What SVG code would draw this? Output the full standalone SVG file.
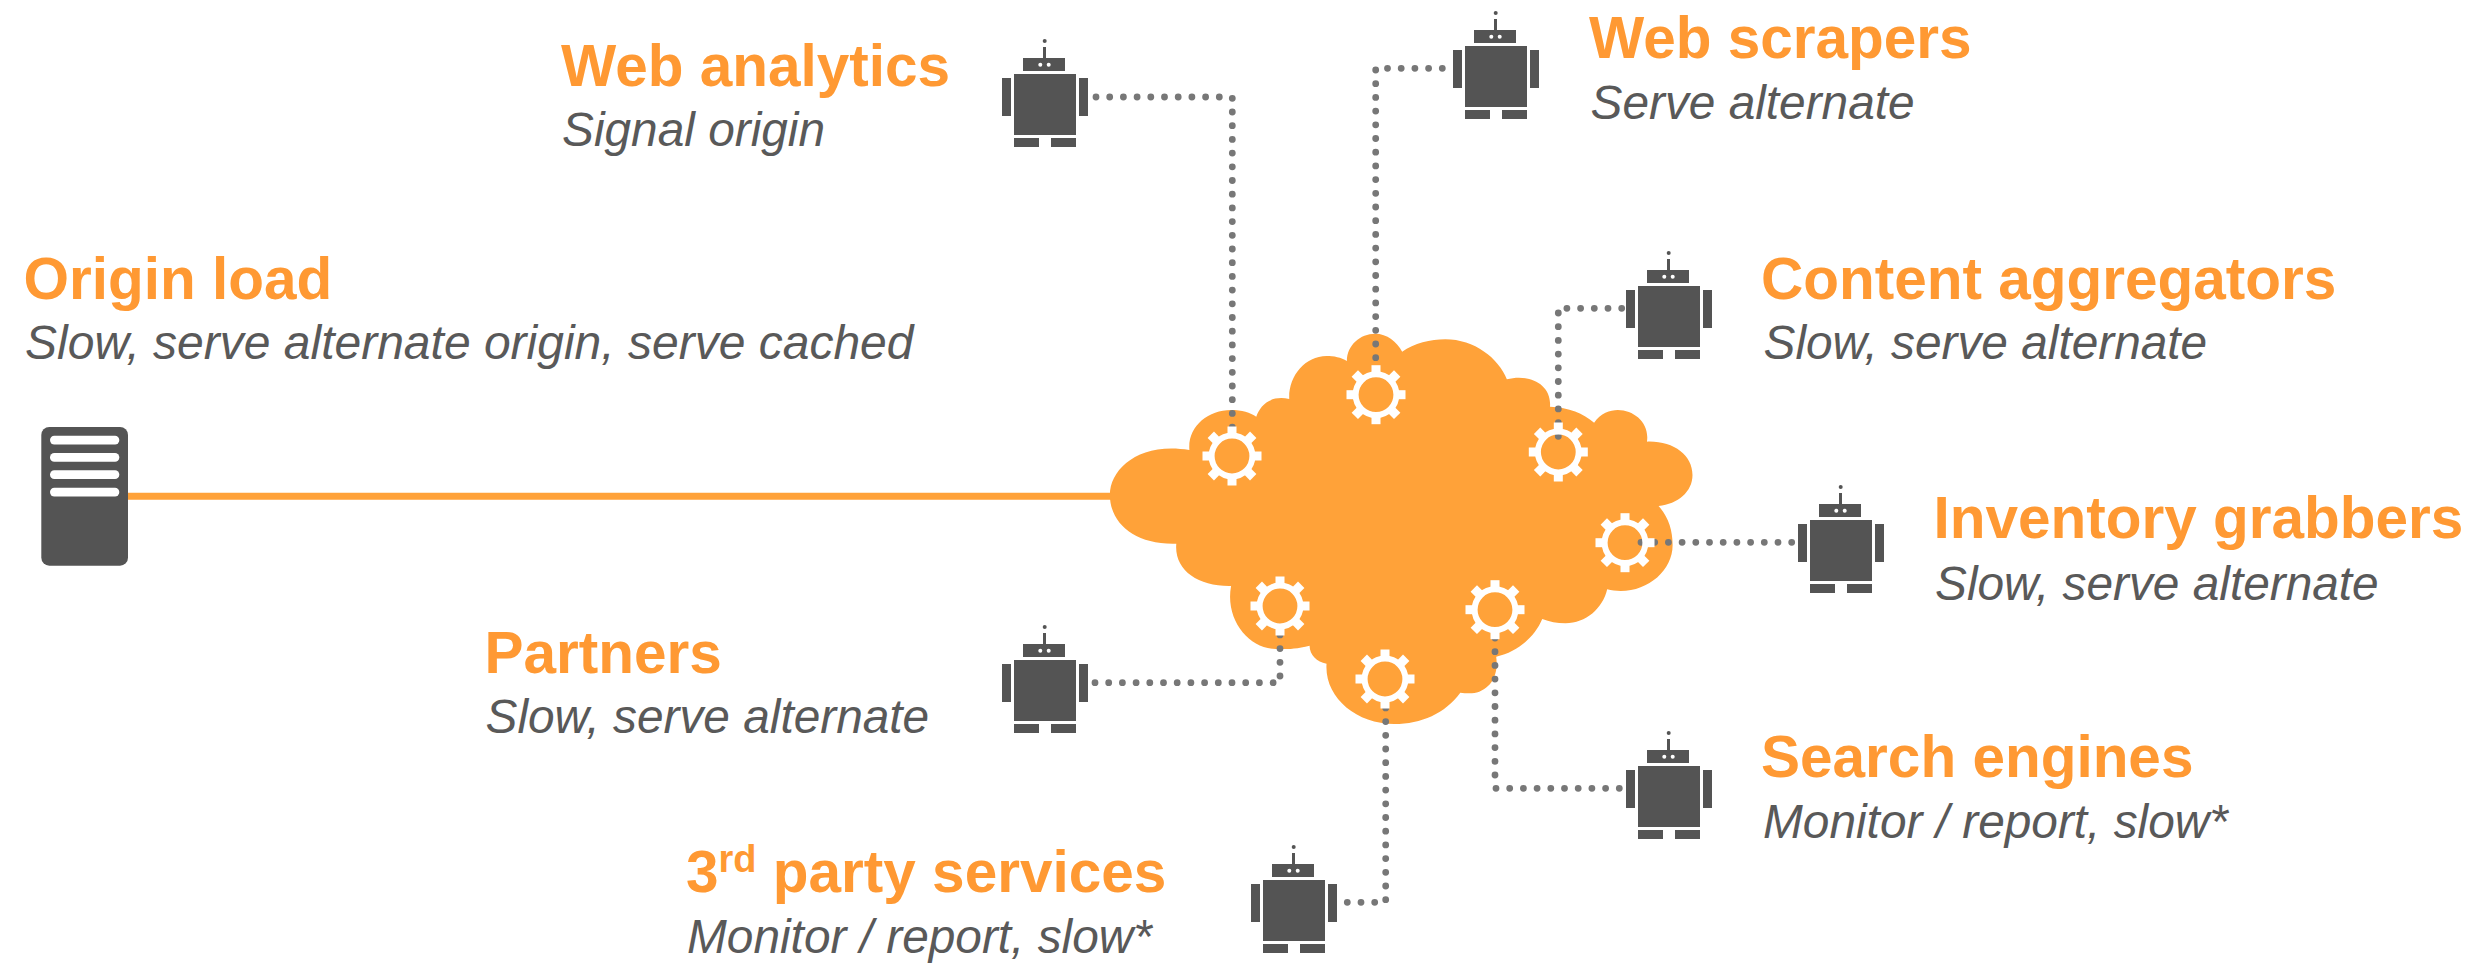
<svg xmlns="http://www.w3.org/2000/svg" xmlns:xlink="http://www.w3.org/1999/xlink" width="2486" height="963" viewBox="0 0 2486 963">
<style>
text{font-family:"Liberation Sans",Arial,sans-serif}
.t{font-size:58.5px;font-weight:700;fill:#f93}
.s{font-size:47.8px;font-style:italic;fill:#595959}
.sup{font-size:38px}
.d{fill:none;stroke:#777;stroke-width:6.8;stroke-linecap:round;stroke-dasharray:0 13.7}
.r{fill:#545454}
.w{fill:#fff}
</style>
<defs>
<g id="robot">
<rect class="r" x="0" y="0" width="62" height="61"/>
<rect class="r" x="-12" y="4" width="9" height="38"/>
<rect class="r" x="65" y="4" width="9" height="38"/>
<rect class="r" x="0" y="64" width="25" height="9"/>
<rect class="r" x="37" y="64" width="25" height="9"/>
<rect class="r" x="9" y="-16" width="42" height="13"/>
<rect class="r" x="29" y="-27" width="3" height="11"/>
<circle class="r" cx="30.7" cy="-33" r="2"/>
<circle class="w" cx="26.3" cy="-9.3" r="2"/>
<circle class="w" cx="34.7" cy="-9.3" r="2"/>
</g>
<g id="gear">
<circle cx="0" cy="0" r="20.4" fill="none" stroke="#fff" stroke-width="6"/>
<rect class="w" x="-4.5" y="-29.5" width="9" height="10"/>
<rect class="w" x="-4.5" y="19.5" width="9" height="10"/>
<rect class="w" x="-29.5" y="-4.5" width="10" height="9"/>
<rect class="w" x="19.5" y="-4.5" width="10" height="9"/>
<rect class="w" x="-4.5" y="-30" width="9" height="11" transform="rotate(45)"/>
<rect class="w" x="-4.5" y="-30" width="9" height="11" transform="rotate(135)"/>
<rect class="w" x="-4.5" y="-30" width="9" height="11" transform="rotate(225)"/>
<rect class="w" x="-4.5" y="-30" width="9" height="11" transform="rotate(315)"/>
</g>
</defs>
<rect width="2486" height="963" fill="#fff"/>
<g id="cloud">
<path transform="translate(980 300) scale(.48469 .33333)" fill="#ffa239" d="M432,450 C428,380 470,330 518,330 C540,330 558,338 570,350 C578,315 600,285 638,297 C636,230 670,168 715,168 C730,168 745,172 757,183 C757,135 785,101 815,101 C840,101 860,125 871,155 C895,130 930,118 960,118 C1020,118 1070,175 1087,238 C1130,220 1180,250 1176,320 C1215,322 1245,340 1267,368 C1280,340 1300,330 1316,330 C1350,330 1382,370 1376,425 C1430,422 1470,465 1470,525 C1470,575 1440,612 1400,618 C1420,650 1429,690 1429,735 C1429,810 1380,873 1322,873 C1312,873 1303,871 1294,868 C1285,925 1250,970 1208,970 C1190,970 1175,965 1160,957 C1145,1010 1110,1055 1065,1070 C1072,1145 1040,1180 1010,1180 C1003,1180 997,1179 991,1178 C960,1240 910,1272 855,1272 C775,1272 710,1190 715,1091 C695,1085 680,1065 680,1037 C645,1050 620,1047 610,1047 C555,1047 505,960 518,858 C450,860 400,810 405,731 C320,735 268,670 268,585 C268,505 330,425 432,450 Z"/>
</g>
<g id="connectors">
<path d="M124.7,496.3 H1115" fill="none" stroke="#ffa239" stroke-width="7"/>
<path class="d" d="M1096,97 H1220"/>
<path class="d" d="M1232.3,98.3 V430"/>
<path class="d" d="M1442.3,68.3 H1387"/>
<path class="d" d="M1375.7,70 V380"/>
<path class="d" d="M1621.7,308.3 H1566"/>
<path class="d" d="M1558.3,313 V440"/>
<path class="d" d="M1791.7,542.3 H1640"/>
<path class="d" d="M1095,682.7 H1274"/>
<path class="d" d="M1280,676 V630"/>
<path class="d" d="M1619.3,788.3 H1495"/>
<path class="d" d="M1495,775 V630"/>
<path class="d" d="M1347.3,902.3 H1375"/>
<path class="d" d="M1385.7,899.7 V700"/>
</g>
<g id="gears">
<use xlink:href="#gear" href="#gear" x="1232" y="456"/>
<use xlink:href="#gear" href="#gear" x="1376" y="394.7"/>
<use xlink:href="#gear" href="#gear" x="1558.3" y="452"/>
<use xlink:href="#gear" href="#gear" x="1625" y="542.7"/>
<use xlink:href="#gear" href="#gear" x="1280" y="606"/>
<use xlink:href="#gear" href="#gear" x="1495" y="609.7"/>
<use xlink:href="#gear" href="#gear" x="1385" y="679"/>
</g>
<g id="origin-load">
<rect class="r" x="41.3" y="427" width="86.7" height="138.7" rx="8"/>
<rect class="w" x="50" y="435.7" width="69.3" height="8.7" rx="4.3"/>
<rect class="w" x="50" y="453" width="69.3" height="8.7" rx="4.3"/>
<rect class="w" x="50" y="470.3" width="69.3" height="8.7" rx="4.3"/>
<rect class="w" x="50" y="487.7" width="69.3" height="8.7" rx="4.3"/>
<text class="t" x="23.5" y="298.5">Origin load</text>
<text class="s" x="25" y="359" style="font-size:48px">Slow, serve alternate origin, serve cached</text>
</g>
<g id="web-analytics"><use xlink:href="#robot" href="#robot" x="1014" y="74"/>
<text class="t" x="561" y="86">Web analytics</text><text class="s" x="562" y="146">Signal origin</text></g>
<g id="web-scrapers"><use xlink:href="#robot" href="#robot" x="1465" y="46"/>
<text class="t" x="1589" y="57.5">Web scrapers</text><text class="s" x="1590.5" y="119">Serve alternate</text></g>
<g id="content-aggregators"><use xlink:href="#robot" href="#robot" x="1638" y="286"/>
<text class="t" x="1761" y="298.5">Content aggregators</text><text class="s" x="1763.5" y="359">Slow, serve alternate</text></g>
<g id="inventory-grabbers"><use xlink:href="#robot" href="#robot" x="1810" y="520"/>
<text class="t" x="1933.5" y="538">Inventory grabbers</text><text class="s" x="1935" y="600">Slow, serve alternate</text></g>
<g id="partners"><use xlink:href="#robot" href="#robot" x="1014" y="660"/>
<text class="t" x="484.5" y="672.5">Partners</text><text class="s" x="485.5" y="733">Slow, serve alternate</text></g>
<g id="search-engines"><use xlink:href="#robot" href="#robot" x="1638" y="766"/>
<text class="t" x="1761" y="776.5">Search engines</text><text class="s" x="1763" y="838">Monitor / report, slow*</text></g>
<g id="third-party"><use xlink:href="#robot" href="#robot" x="1263" y="880"/>
<text class="t" x="686" y="892">3<tspan class="sup" dy="-20">rd</tspan><tspan dy="20"> party services</tspan></text><text class="s" x="687" y="953">Monitor / report, slow*</text></g>
</svg>
